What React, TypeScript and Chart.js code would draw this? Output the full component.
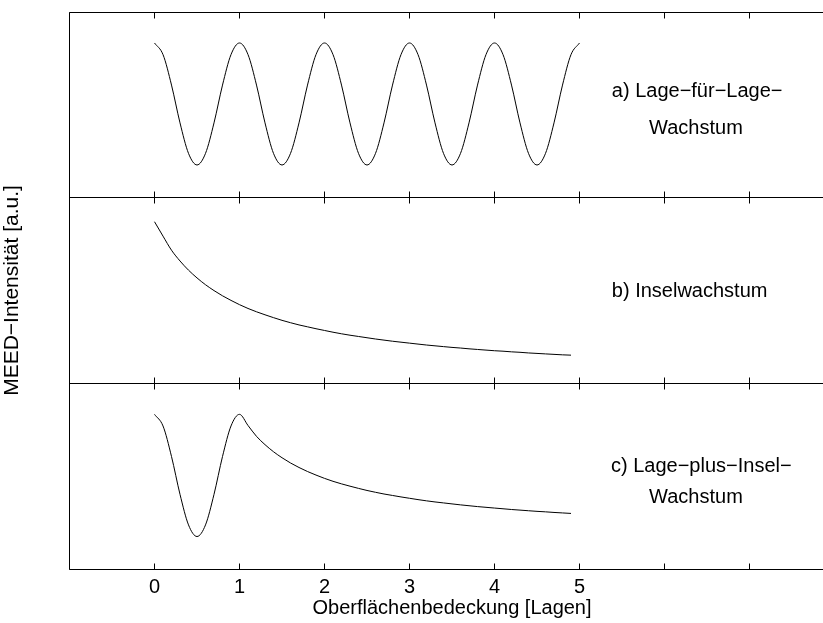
import React, { useEffect, useRef } from 'react';
import { Chart, registerables } from 'chart.js';

Chart.register(...registerables);

// ---- data ----
const X_A = [
  0, 0.1, 0.2, 0.3, 0.4, 0.5, 0.6, 0.7, 0.8, 0.9,
  1, 1.1, 1.2, 1.3, 1.4, 1.5, 1.6, 1.7, 1.8, 1.9,
  2, 2.1, 2.2, 2.3, 2.4, 2.5, 2.6, 2.7, 2.8, 2.9,
  3, 3.1, 3.2, 3.3, 3.4, 3.5, 3.6, 3.7, 3.8, 3.9,
  4, 4.1, 4.2, 4.3, 4.4, 4.5, 4.6, 4.7, 4.8, 4.9,
  5,
];
const X_BC = [
  0, 0.1, 0.2, 0.3, 0.4, 0.5, 0.6, 0.7, 0.8, 0.9,
  1, 1.1, 1.2, 1.3, 1.4, 1.5, 1.6, 1.7, 1.8, 1.9,
  2, 2.1, 2.2, 2.3, 2.4, 2.5, 2.6, 2.7, 2.8, 2.9,
  3, 3.1, 3.2, 3.3, 3.4, 3.5, 3.6, 3.7, 3.8, 3.9,
  4, 4.1, 4.2, 4.3, 4.4, 4.5, 4.6, 4.7, 4.8, 4.9,
];
// a) Lage-für-Lage-Wachstum
const LAYER_BY_LAYER = [
  1, 0.905, 0.655, 0.345, 0.095, 0, 0.095, 0.345, 0.655, 0.905,
  1, 0.905, 0.655, 0.345, 0.095, 0, 0.095, 0.345, 0.655, 0.905,
  1, 0.905, 0.655, 0.345, 0.095, 0, 0.095, 0.345, 0.655, 0.905,
  1, 0.905, 0.655, 0.345, 0.095, 0, 0.095, 0.345, 0.655, 0.905,
  1, 0.905, 0.655, 0.345, 0.095, 0, 0.095, 0.345, 0.655, 0.905,
  1,
];
// b) Inselwachstum
const ISLAND = [
  1, 0.909, 0.82, 0.752, 0.694, 0.645, 0.602, 0.565, 0.532, 0.503,
  0.476, 0.452, 0.431, 0.412, 0.394, 0.377, 0.362, 0.348, 0.336, 0.324,
  0.313, 0.302, 0.292, 0.283, 0.275, 0.267, 0.259, 0.252, 0.245, 0.239,
  0.233, 0.227, 0.221, 0.216, 0.211, 0.206, 0.202, 0.197, 0.193, 0.189,
  0.185, 0.182, 0.178, 0.175, 0.171, 0.168, 0.165, 0.162, 0.159, 0.157,
];
// c) Lage-plus-Insel-Wachstum
const LAYER_PLUS_ISLAND = [
  1, 0.905, 0.655, 0.345, 0.095, 0, 0.095, 0.345, 0.655, 0.905,
  1, 0.909, 0.82, 0.752, 0.694, 0.645, 0.602, 0.565, 0.532, 0.503,
  0.476, 0.452, 0.431, 0.412, 0.394, 0.377, 0.362, 0.348, 0.336, 0.324,
  0.313, 0.302, 0.292, 0.283, 0.275, 0.267, 0.259, 0.252, 0.245, 0.239,
  0.233, 0.227, 0.221, 0.216, 0.211, 0.206, 0.202, 0.197, 0.193, 0.189,
];
const X_TICK_LABELS = ['0', '1', '2', '3', '4', '5'];
const LABEL_A = ['a) Lage\u2212f\u00fcr\u2212Lage\u2212', 'Wachstum'];
const LABEL_B = ['b) Inselwachstum'];
const LABEL_C = ['c) Lage\u2212plus\u2212Insel\u2212', 'Wachstum'];
const X_TITLE = 'Oberfl\u00e4chenbedeckung [Lagen]';
const Y_TITLE = 'MEED\u2212Intensit\u00e4t [a.u.]';

// ---- layout / styles ----
const FONT = '"Liberation Sans", Arial, Helvetica, sans-serif';
const FONT_SIZE = 20;
const Y_TITLE_SIZE = 21;
const CANVAS_W = 845;
const CANVAS_H = 623;
const TICK_LEN = 6;

const ANNOTATIONS = [
  { axis: 'ya', text: LABEL_A[0], x: 5.38, y: 0.606, align: 'left' },
  { axis: 'ya', text: LABEL_A[1], x: 6.37, y: 0.303, align: 'center' },
  { axis: 'yb', text: LABEL_B[0], x: 5.38, y: 0.56, align: 'left' },
  { axis: 'yc', text: LABEL_C[0], x: 5.37, y: 0.577, align: 'left' },
  { axis: 'yc', text: LABEL_C[1], x: 6.37, y: 0.323, align: 'center' },
];

const px = (v: number) => Math.floor(v) + 0.5;

const framePlugin = {
  id: 'frame',
  afterDatasetsDraw(chart: any) {
    const ctx = chart.ctx;
    const { left, right, top, bottom } = chart.chartArea;
    const xs = chart.scales.x;
    const panels = ['ya', 'yb', 'yc'].map((id) => chart.scales[id]);
    ctx.save();
    ctx.strokeStyle = '#000';
    ctx.lineWidth = 1;
    ctx.beginPath();
    ctx.moveTo(px(left), px(top));
    ctx.lineTo(px(left), px(bottom));
    panels.forEach((p: any) => {
      ctx.moveTo(px(left), px(p.top));
      ctx.lineTo(right, px(p.top));
      ctx.moveTo(px(left), px(p.bottom));
      ctx.lineTo(right, px(p.bottom));
      xs.ticks.forEach((t: any) => {
        const xp = px(xs.getPixelForValue(t.value));
        ctx.moveTo(xp, px(p.top));
        ctx.lineTo(xp, px(p.top) + TICK_LEN);
        ctx.moveTo(xp, px(p.bottom));
        ctx.lineTo(xp, px(p.bottom) - TICK_LEN);
      });
    });
    ctx.stroke();

    ctx.fillStyle = '#000';
    ctx.font = `${FONT_SIZE}px ${FONT}`;
    ctx.textBaseline = 'middle';
    ANNOTATIONS.forEach((a) => {
      const ys = chart.scales[a.axis];
      ctx.textAlign = a.align;
      ctx.fillText(a.text, xs.getPixelForValue(a.x), ys.getPixelForValue(a.y));
    });
    ctx.restore();
  },
};

const yAxis = (min: number, max: number, weight: number, title?: string) => ({
  type: 'linear',
  position: 'left',
  stack: 'panels',
  weight,
  min,
  max,
  grid: { display: false, drawTicks: false },
  border: { display: false },
  ticks: { display: false },
  title: title
    ? { display: true, text: title, color: '#000', font: { size: Y_TITLE_SIZE, family: FONT }, padding: { top: 0, bottom: 0 } }
    : { display: false },
  afterFit: (s: any) => {
    s.width = 69.5;
  },
});

const line = (xs: number[], ys: number[], axis: string) => ({
  data: xs.map((x, i) => ({ x, y: ys[i] })),
  yAxisID: axis,
  borderColor: '#000',
  borderWidth: 1,
  pointRadius: 0,
  fill: false,
  cubicInterpolationMode: 'monotone',
});

export default function App() {
  const ref = useRef<HTMLCanvasElement>(null);
  useEffect(() => {
    if (!ref.current) return;
    const chart = new Chart(ref.current, {
      type: 'line',
      data: {
        datasets: [
          line(X_A, LAYER_BY_LAYER, 'ya'),
          line(X_BC, ISLAND, 'yb'),
          line(X_BC, LAYER_PLUS_ISLAND, 'yc'),
        ] as any,
      },
      options: {
        animation: false,
        responsive: false,
        maintainAspectRatio: false,
        devicePixelRatio: 1,
        layout: { padding: { left: 0, top: 12, right: CANVAS_W - 834.5, bottom: 0 } },
        plugins: { legend: { display: false }, tooltip: { enabled: false } },
        scales: {
          x: {
            type: 'linear',
            position: 'bottom',
            min: -1,
            max: 8,
            grid: { display: false, drawTicks: false },
            border: { display: false },
            ticks: {
              stepSize: 1,
              autoSkip: false,
              maxRotation: 0,
              padding: 6,
              color: '#000',
              font: { size: FONT_SIZE, family: FONT },
              callback: (v: any) => (X_TICK_LABELS.includes(String(v)) ? String(v) : ''),
            },
            title: {
              display: true,
              text: X_TITLE,
              color: '#000',
              font: { size: FONT_SIZE, family: FONT },
              padding: { top: 0, bottom: 3 },
            },
            afterFit: (s: any) => {
              s.height = 54;
            },
          },
          ya: yAxis(-0.268, 1.254, 3),
          yb: yAxis(-0.021, 1.152, 2, Y_TITLE),
          yc: yAxis(-0.266, 1.254, 1),
        } as any,
      },
      plugins: [framePlugin],
    });
    return () => chart.destroy();
  }, []);
  return (
    <div
      style={{
        position: 'fixed',
        left: 0,
        top: 0,
        width: 823,
        height: 623,
        overflow: 'hidden',
        background: '#fff',
      }}
    >
      <canvas ref={ref} width={CANVAS_W} height={CANVAS_H} style={{ display: 'block' }} />
    </div>
  );
}
